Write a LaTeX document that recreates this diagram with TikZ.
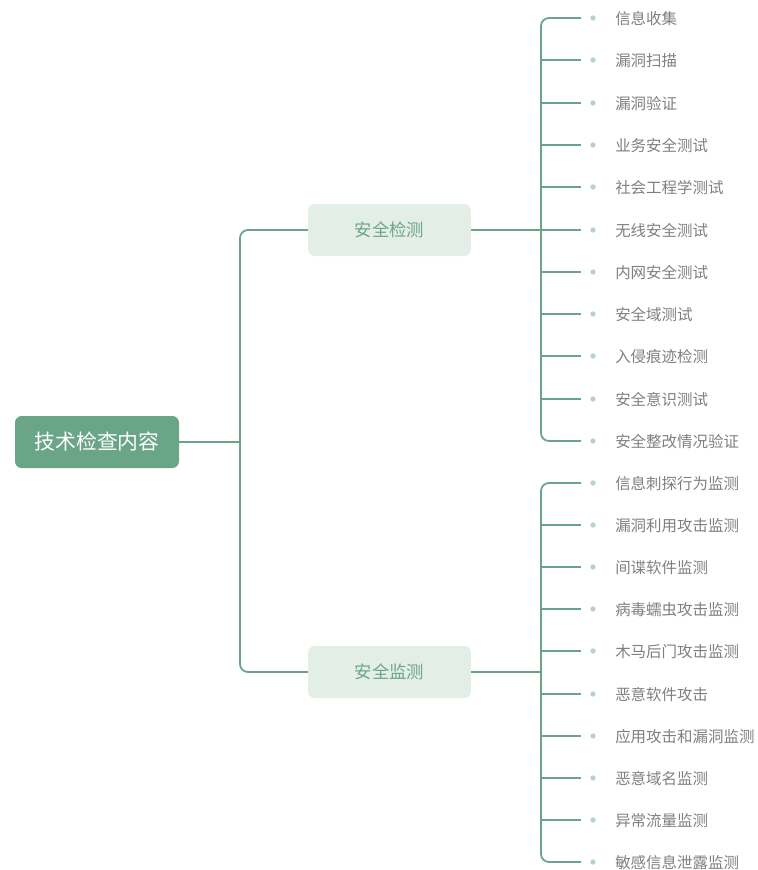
\documentclass[tikz,border=0pt]{standalone}
\usepackage{fontspec}
\setmainfont{Noto Sans CJK SC}
\definecolor{mgreen}{HTML}{6BA587}
\definecolor{lgreen}{HTML}{E3EEE7}
\definecolor{dotg}{HTML}{B7D4C2}
\definecolor{tgray}{HTML}{7F7F7F}
\tikzset{
  rootbox/.style={fill=mgreen, rounded corners=5pt, minimum width=123pt, minimum height=39pt, text=white, font=\fontsize{15.6}{18}\selectfont, inner sep=0pt},
  branchbox/.style={fill=lgreen, rounded corners=5pt, minimum width=122pt, minimum height=39pt, text=mgreen, font=\fontsize{13}{16}\selectfont, inner sep=0pt},
  leaftext/.style={anchor=west, text=tgray, font=\fontsize{11.6}{14}\selectfont, inner sep=0pt},
  conn/.style={draw=mgreen, line width=1.35pt, rounded corners=6pt},
  leafdot/.style={circle, fill=dotg, minimum size=4pt, inner sep=0pt}
}
\begin{document}
\begin{tikzpicture}[x=0.75pt, y=-0.75pt]
\useasboundingbox (0,0) rectangle (757,870);
\node[rootbox] (root) at (97,442) {技术检查内容};
\node[branchbox] (b1) at (389.5,230) {安全检测};
\node[branchbox] (b2) at (389.5,672) {安全监测};
\coordinate (j0) at (240,442);
\draw[conn] (root.east) -- (j0);
\draw[conn] (b1.west) -| (j0) |- (b2.west);
% group 1
\coordinate (j1) at (541,230);
\draw[conn] (b1.east) -- (j1);
\foreach \t [count=\i from 0] in {信息收集,漏洞扫描,漏洞验证,业务安全测试,社会工程学测试,无线安全测试,内网安全测试,安全域测试,入侵痕迹检测,安全意识测试,安全整改情况验证} {
  \pgfmathsetmacro{\yy}{round(18+42.3*\i)}
  \node[leafdot] (d1\i) at (593,\yy) {};
  \node[leaftext] (l1\i) at (615,\yy+0.8) {\t};
  \coordinate (e1\i) at (581,\yy);
  \coordinate (s1\i) at (541,\yy);
}
\draw[conn] (e10) -| (j1) |- (e110);
\foreach \i in {1,...,9} { \draw[conn] (s1\i) -- (e1\i); }
% group 2
\coordinate (j2) at (541,672);
\draw[conn] (b2.east) -- (j2);
\foreach \t [count=\i from 0] in {信息刺探行为监测,漏洞利用攻击监测,间谍软件监测,病毒蠕虫攻击监测,木马后门攻击监测,恶意软件攻击,应用攻击和漏洞监测,恶意域名监测,异常流量监测,敏感信息泄露监测} {
  \pgfmathsetmacro{\yy}{round(483+42.1*\i)}
  \node[leafdot] (d2\i) at (593,\yy) {};
  \node[leaftext] (l2\i) at (615,\yy+0.8) {\t};
  \coordinate (e2\i) at (581,\yy);
  \coordinate (s2\i) at (541,\yy);
}
\draw[conn] (e20) -| (j2) |- (e29);
\foreach \i in {1,...,8} { \draw[conn] (s2\i) -- (e2\i); }
\end{tikzpicture}
\end{document}
